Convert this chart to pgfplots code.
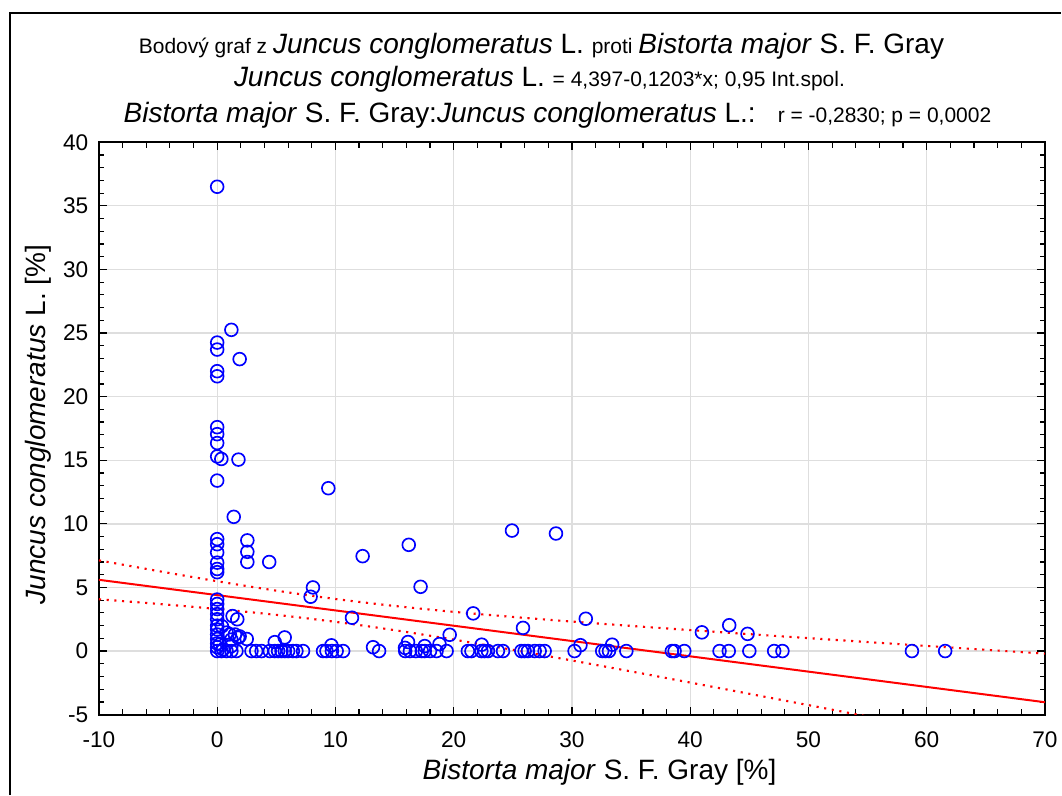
\documentclass[border=0pt]{standalone}
\usepackage{fontspec}
\setmainfont{Liberation Sans}
\usepackage{pgfplots}
\pgfplotsset{compat=1.18}
\newcommand{\Lf}{\fontsize{21}{25}\selectfont}
\newcommand{\Sf}{\fontsize{15.75}{19}\selectfont}
\begin{document}
\begin{tikzpicture}[x=0.75pt,y=0.75pt]
\begin{scope}[shift={(-217.4,-144.3)}]
\useasboundingbox (0,0) rectangle (1062,796);
\draw[line width=2.2pt] (10,0) -- (10,783) -- (1062,783);
\end{scope}
\begin{axis}[
  at={(0,0)}, anchor=origin,
  width=710.25pt, height=429.75pt, scale only axis,
  xmin=-10, xmax=70, ymin=-5, ymax=40,
  xtick={-10,0,...,70}, ytick={-5,0,...,40},
  minor tick num=4,
  grid=major,
  major grid style={draw=black!13, line width=1pt},
  tick align=inside,
  major tick length=6pt, minor tick length=4pt,
  tick style={black, line width=0.9pt},
  axis line style={line width=1.5pt},
  ticklabel style={font=\fontsize{17}{20}\selectfont},
  /pgf/number format/assume math mode=true,
  /pgf/number format/use comma,
  xticklabel style={yshift=-9pt},
  yticklabel style={xshift=-4.5pt},
]
\addplot[red, line width=1.5pt] coordinates {(-10,5.600) (70,-4.024)};
\addplot[red, line width=1.6pt, dash pattern=on 1.6pt off 4.2pt, smooth] coordinates {
(-10,7.130) (-5,6.291) (0,5.488) (5,4.747) (10,4.093) (15,3.544) (20,3.082) (25,2.682) (30,2.318) (35,1.976) (40,1.648) (45,1.328) (50,1.016) (55,0.706) (60,0.401) (65,0.098) (70,-0.204)};
\addplot[red, line width=1.6pt, dash pattern=on 1.6pt off 4.2pt, smooth] coordinates {
(-10,4.070) (-5,3.707) (0,3.306) (5,2.845) (10,2.295) (15,1.642) (20,0.900) (25,0.098) (30,-0.742) (35,-1.602) (40,-2.478) (45,-3.362) (50,-4.252) (55,-5.146) (60,-6.043) (65,-6.944) (70,-7.844)};
\addplot[only marks, mark=o, mark size=4.8pt, mark options={draw=blue, line width=1.25pt}] coordinates {
(0,36.5) (0,24.25) (0,23.7) (0,22.0) (0,21.6) (0,17.6) (0,17.05) (0,16.35) (0,15.3) (0,13.4)
(0,8.8) (0,8.4) (0,7.75) (0,6.95) (0,6.45) (0,6.2) (0,4.05) (0,3.7) (0,3.3) (0,2.9) (0,2.5)
(0,2.0) (0,1.7) (0,1.3) (0,0.95) (0,0.6) (0,0.3) (0,0)
(1.2,25.25) (1.9,22.95) (0.35,15.1) (1.8,15.05) (1.4,10.55) (2.55,8.7) (2.55,7.8) (2.55,7.0) (4.4,7.0)
(1.3,2.75) (1.7,2.5) (0.4,1.95) (0.8,1.45) (1.5,1.3) (1.9,1.15) (2.5,0.95) (1.2,0.9) (1.07,1.31) (1.77,1.05)
(0.22,0.53) (1.2,0.39) (0.5,0.13) (4.87,0.7) (5.71,1.07)
(0.36,0) (0.79,0) (1.2,0) (1.63,0) (2.9,0) (3.3,0) (3.76,0) (4.45,0) (4.87,0) (5.15,0) (5.44,0)
(5.72,0) (6.0,0) (6.4,0) (6.7,0) (7.26,0)
(7.9,4.27) (8.1,5.0) (9.4,12.8) (11.4,2.62) (12.3,7.46) (16.2,8.35) (17.2,5.05) (24.93,9.47) (28.65,9.24)
(21.65,2.96) (25.86,1.82) (31.17,2.54) (19.66,1.28) (30.72,0.46) (33.4,0.5) (9.66,0.45) (13.18,0.3)
(16.14,0.71) (15.88,0.25) (17.55,0.39) (18.8,0.55) (22.37,0.5)
(8.95,0) (9.24,0) (9.7,0) (10.1,0) (10.65,0) (13.69,0) (15.9,0) (16.3,0) (16.8,0) (17.3,0) (17.55,0)
(18.0,0) (18.55,0) (19.4,0) (21.2,0) (21.5,0) (22.34,0) (22.62,0) (22.9,0) (23.74,0) (24.17,0)
(25.72,0) (26.0,0) (26.28,0) (26.85,0) (27.27,0) (27.69,0) (30.22,0) (32.56,0) (32.84,0) (33.13,0) (34.6,0)
(40.99,1.47) (43.3,2.03) (44.85,1.35) (38.45,0) (38.68,0) (39.5,0) (42.48,0) (43.26,0) (45.0,0)
(47.1,0) (47.8,0) (58.75,0) (61.56,0)
};
\end{axis}
\begin{scope}[shift={(-217.4,-144.3)}]
\node[anchor=base] at (542,742) {\Sf Bodový graf z \Lf\textit{Juncus conglomeratus} L. \Sf proti \Lf\textit{Bistorta major} S. F. Gray};
\node[anchor=base] at (540,709) {\Lf\textit{Juncus conglomeratus} L. \Sf = 4,397-0,1203*x; 0,95 Int.spol.};
\node[anchor=base] at (558,673) {\Lf\textit{Bistorta major} S. F. Gray:\textit{Juncus conglomeratus} L.: \Sf\ \ r = -0,2830; p = 0,0002};
\node[anchor=base] at (600,16) {\Lf\textit{Bistorta major} S. F. Gray [\%]};
\node[rotate=90] at (38,371) {\Lf\textit{Juncus conglomeratus} L. [\%]};
\end{scope}
\end{tikzpicture}
\end{document}
